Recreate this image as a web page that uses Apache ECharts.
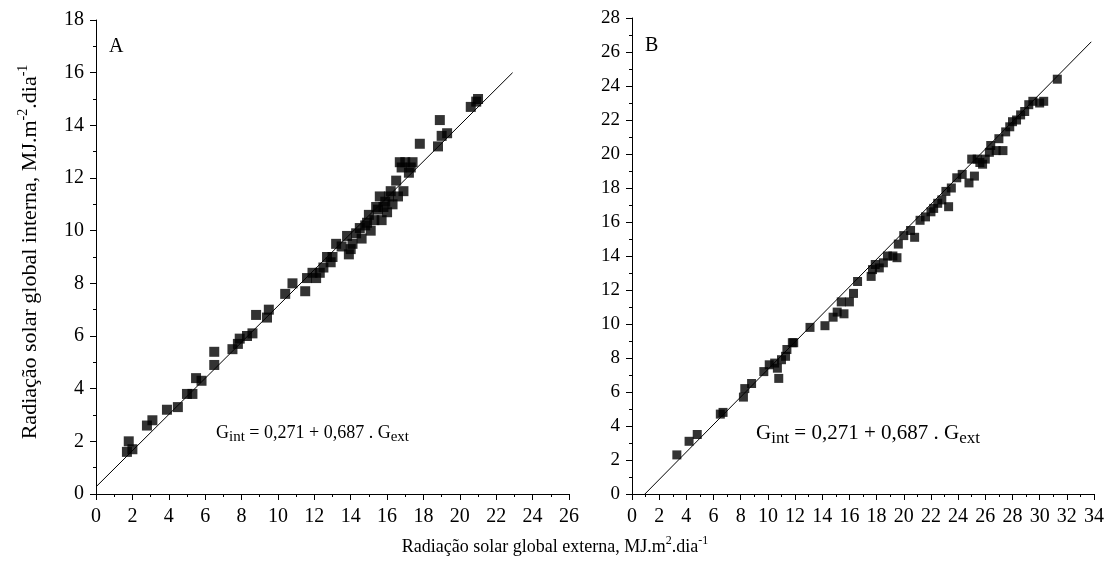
<!doctype html>
<html>
    <head>
        <meta charset="utf-8">
        <title>Radiação solar global</title>
        <style>
            html, body { margin: 0; padding: 0; background: #fff; }
            #main { width: 1107px; height: 571px; }
        </style>
    </head>
    <body>
        <div id="main"></div>
        <script src="https://cdn.jsdelivr.net/npm/echarts@6/dist/echarts.min.js"></script>
        <script>
            // painel A: radiação externa x interna
            var pointsA = [
                [1.7, 1.6], [1.8, 2.0], [2.0, 1.7], [2.8, 2.6], [3.1, 2.8], [3.9, 3.2], [4.5, 3.3],
                [5.0, 3.8], [5.3, 3.8], [5.5, 4.4], [5.8, 4.3], [6.5, 4.9], [6.5, 5.4], [7.5, 5.5],
                [7.8, 5.7], [7.9, 5.9], [8.3, 6.0], [8.6, 6.1], [8.8, 6.8], [9.4, 6.7], [9.5, 7.0],
                [10.4, 7.6], [10.8, 8.0], [11.5, 7.7], [11.6, 8.2], [11.9, 8.4], [12.1, 8.2], [12.3, 8.4],
                [12.5, 8.6], [12.7, 9.0], [12.9, 8.8], [13.0, 9.0], [13.2, 9.5], [13.5, 9.4], [13.8, 9.8],
                [13.9, 9.1], [14.0, 9.3], [14.1, 9.5], [14.3, 9.9], [14.5, 10.1], [14.6, 9.7], [14.8, 10.2],
                [14.9, 10.3], [15.0, 10.6], [15.1, 10.0], [15.3, 10.4], [15.4, 10.9], [15.5, 10.8],
                [15.6, 11.3], [15.7, 10.4], [15.8, 10.9], [15.9, 11.1], [16.0, 10.7], [16.1, 11.3],
                [16.2, 11.5], [16.3, 11.0], [16.5, 11.9], [16.6, 11.3], [16.7, 12.6], [16.8, 12.4],
                [16.9, 11.5], [17.0, 12.6], [17.2, 12.2], [17.3, 12.4], [17.4, 12.6], [17.8, 13.3],
                [18.8, 13.2], [18.9, 14.2], [19.0, 13.6], [19.3, 13.7], [20.6, 14.7], [20.9, 14.9], [21.0, 15.0]
            ];
            var fitA = [[0, 0.271], [22.9, 16.0]];

            // painel B
            var pointsB = [
                [3.3, 2.3], [4.2, 3.1], [4.8, 3.5], [6.5, 4.7], [6.7, 4.8], [8.2, 5.7], [8.3, 6.2],
                [8.8, 6.5], [9.7, 7.2], [10.1, 7.6], [10.5, 7.7], [10.7, 7.4], [10.8, 6.8], [11.0, 7.9],
                [11.3, 8.1], [11.4, 8.5], [11.8, 8.9], [11.9, 8.9], [13.1, 9.8], [14.2, 9.9], [14.8, 10.4],
                [15.1, 10.7], [15.4, 11.3], [15.6, 10.6], [16.0, 11.3], [16.3, 11.8], [16.6, 12.5],
                [17.6, 12.8], [17.7, 13.2], [17.9, 13.5], [18.2, 13.3], [18.5, 13.6], [18.8, 14.0],
                [19.2, 14.0], [19.5, 13.9], [19.6, 14.7], [20.0, 15.2], [20.5, 15.5], [20.8, 15.1],
                [21.2, 16.1], [21.6, 16.3], [22.0, 16.6], [22.2, 16.8], [22.5, 17.1], [22.8, 17.3],
                [23.1, 17.8], [23.3, 16.9], [23.5, 18.0], [23.9, 18.6], [24.3, 18.8], [24.8, 18.3],
                [25.0, 19.7], [25.2, 18.7], [25.4, 19.7], [25.6, 19.5], [25.8, 19.4], [26.0, 19.7],
                [26.3, 20.1], [26.4, 20.5], [26.8, 20.2], [27.0, 20.9], [27.3, 20.2], [27.5, 21.3],
                [27.8, 21.6], [28.0, 21.9], [28.3, 22.0], [28.6, 22.3], [28.9, 22.5], [29.2, 22.9],
                [29.5, 23.1], [30.0, 23.0], [30.3, 23.1], [31.3, 24.4]
            ];
            var fitB = [[0.95, 0], [33.8, 26.6]];

            var xMax = [26, 34];
            var yMax = [18, 28];
            var panelLabels = ['A', 'B'];
            var equation = ['G', 'int', ' = 0,271 + 0,687 . G', 'ext'];
            var yTitle = ['Radiação solar global interna, MJ.m', '-2', '.dia', '-1'];
            var xTitle = ['Radiação solar global externa, MJ.m', '2', '.dia', '-1'];

            var FONT = '"Liberation Serif", serif';
            var chart = echarts.init(document.getElementById('main'));

            function axis(gridIndex, max, fontSize, margin) {
                return {
                    type: 'value',
                    gridIndex: gridIndex,
                    min: 0,
                    max: max,
                    interval: 2,
                    splitLine: { show: false },
                    axisLine: { show: true, onZero: false, lineStyle: { color: '#000', width: 1 } },
                    axisTick: { show: true, length: 6, lineStyle: { color: '#000' } },
                    minorTick: { show: true, splitNumber: 2, length: 3, lineStyle: { color: '#000' } },
                    axisLabel: { color: '#000', fontFamily: FONT, fontSize: fontSize, margin: margin }
                };
            }

            function rich(size, supSize) {
                return {
                    m: { fontFamily: FONT, fontSize: size, lineHeight: size + 6, fill: '#000' },
                    sup: { fontFamily: FONT, fontSize: supSize, lineHeight: supSize, fill: '#000', verticalAlign: 'top' },
                    sub: { fontFamily: FONT, fontSize: supSize + 3, lineHeight: supSize + 2, fill: '#000', verticalAlign: 'bottom' }
                };
            }

            function eqText() {
                return '{m|' + equation[0] + '}{sub|' + equation[1] + '}{m|' + equation[2] + '}{sub|' + equation[3] + '}';
            }
            function titleText(t) {
                return '{m|' + t[0] + '}{sup|' + t[1] + '}{m|' + t[2] + '}{sup|' + t[3] + '}';
            }

            function scatter(idx, data, size) {
                return {
                    type: 'scatter',
                    xAxisIndex: idx,
                    yAxisIndex: idx,
                    data: data,
                    symbol: 'rect',
                    symbolSize: size,
                    itemStyle: { color: '#000' },
                    silent: true
                };
            }

            function fitLine(idx, data) {
                return {
                    type: 'line', xAxisIndex: idx, yAxisIndex: idx, data: data,
                    symbol: 'none', lineStyle: { color: '#000', width: 1 }, silent: true
                };
            }

            chart.setOption({
                animation: false,
                grid: [
                    { left: 96, top: 20, width: 473, height: 474 },
                    { left: 632, top: 18, width: 464, height: 476 }
                ],
                xAxis: [axis(0, xMax[0], 20, 13), axis(1, xMax[1], 20, 13)],
                yAxis: [axis(0, yMax[0], 20, 12), axis(1, yMax[1], 19, 12)],
                series: [
                    scatter(0, pointsA, 10),
                    fitLine(0, fitA),
                    scatter(1, pointsB, 9),
                    fitLine(1, fitB)
                ],
                graphic: [
                    { type: 'text', left: 109, top: 37, style: { text: panelLabels[0], font: '20px ' + FONT, fill: '#000' } },
                    { type: 'text', left: 645, top: 36, style: { text: panelLabels[1], font: '20px ' + FONT, fill: '#000' } },
                    { type: 'text', left: 216, top: 424, style: { text: eqText(), rich: rich(18, 12) } },
                    { type: 'text', left: 756, top: 423, style: { text: eqText(), rich: rich(21, 14) } },
                    {
                        type: 'text', x: 555, y: 547,
                        style: { text: titleText(xTitle), rich: rich(18, 12), align: 'center', verticalAlign: 'middle' }
                    },
                    {
                        type: 'text', x: 30, y: 252, rotation: Math.PI / 2,
                        style: { text: titleText(yTitle), rich: rich(22, 14), align: 'center', verticalAlign: 'middle' }
                    }
                ]
            });

            window.addEventListener('resize', chart.resize);
        </script>
    </body>
</html>
